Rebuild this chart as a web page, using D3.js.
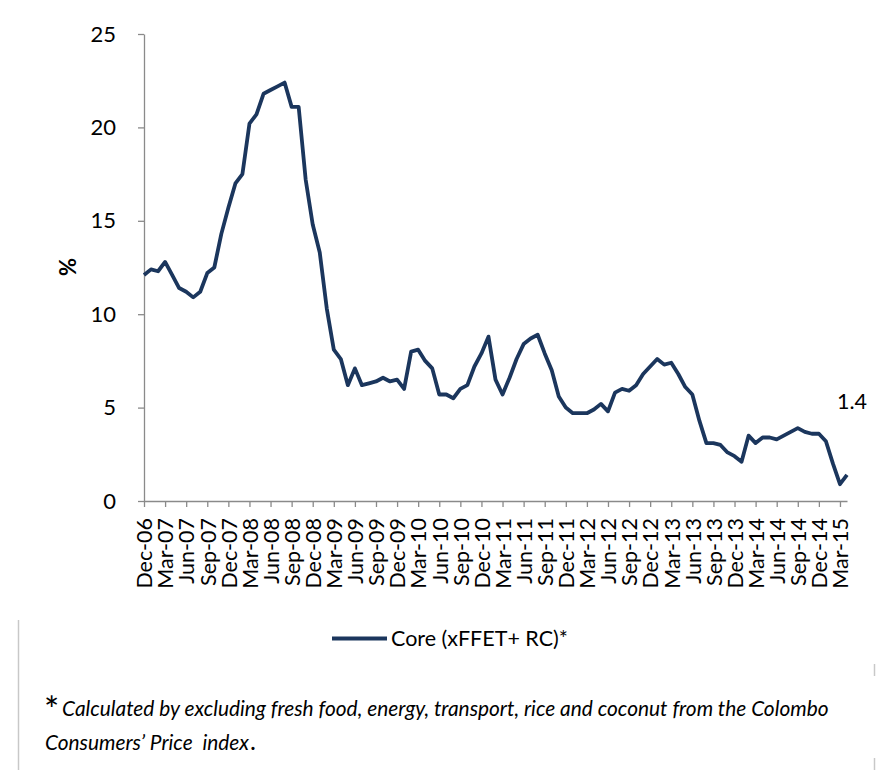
<!DOCTYPE html>
<html><head><meta charset="utf-8">
<script src="https://cdn.jsdelivr.net/npm/d3@7"></script>
<style>
body{margin:0;background:#fff}
svg{display:block;font-family:Lato,"Open Sans",sans-serif}
</style>
</head><body>
<svg id="c" width="879" height="770"></svg>
<script>
// ---- data ----
const months = [
"Dec-06","Jan-07","Feb-07","Mar-07","Apr-07","May-07","Jun-07","Jul-07","Aug-07","Sep-07","Oct-07","Nov-07",
"Dec-07","Jan-08","Feb-08","Mar-08","Apr-08","May-08","Jun-08","Jul-08","Aug-08","Sep-08","Oct-08","Nov-08",
"Dec-08","Jan-09","Feb-09","Mar-09","Apr-09","May-09","Jun-09","Jul-09","Aug-09","Sep-09","Oct-09","Nov-09",
"Dec-09","Jan-10","Feb-10","Mar-10","Apr-10","May-10","Jun-10","Jul-10","Aug-10","Sep-10","Oct-10","Nov-10",
"Dec-10","Jan-11","Feb-11","Mar-11","Apr-11","May-11","Jun-11","Jul-11","Aug-11","Sep-11","Oct-11","Nov-11",
"Dec-11","Jan-12","Feb-12","Mar-12","Apr-12","May-12","Jun-12","Jul-12","Aug-12","Sep-12","Oct-12","Nov-12",
"Dec-12","Jan-13","Feb-13","Mar-13","Apr-13","May-13","Jun-13","Jul-13","Aug-13","Sep-13","Oct-13","Nov-13",
"Dec-13","Jan-14","Feb-14","Mar-14","Apr-14","May-14","Jun-14","Jul-14","Aug-14","Sep-14","Oct-14","Nov-14",
"Dec-14","Jan-15","Feb-15","Mar-15","Apr-15"];

const core = [
12.1,12.4,12.3,12.8,12.1,11.4,11.2,10.9,11.2,12.2,12.5,14.3,
15.7,17.0,17.5,20.2,20.7,21.8,22.0,22.2,22.4,21.1,21.1,17.2,
14.8,13.3,10.3,8.1,7.6,6.2,7.1,6.2,6.3,6.4,6.6,6.4,
6.5,6.0,8.0,8.1,7.5,7.1,5.7,5.7,5.5,6.0,6.2,7.2,
7.9,8.8,6.5,5.7,6.6,7.6,8.4,8.7,8.9,7.9,7.0,5.6,
5.0,4.7,4.7,4.7,4.9,5.2,4.8,5.8,6.0,5.9,6.2,6.8,
7.2,7.6,7.3,7.4,6.8,6.1,5.7,4.3,3.1,3.1,3.0,2.6,
2.4,2.1,3.5,3.1,3.4,3.4,3.3,3.5,3.7,3.9,3.7,3.6,
3.6,3.2,2.0,0.9,1.4];

const tickLabels = ["Dec-06","Mar-07","Jun-07","Sep-07","Dec-07","Mar-08","Jun-08","Sep-08","Dec-08",
"Mar-09","Jun-09","Sep-09","Dec-09","Mar-10","Jun-10","Sep-10","Dec-10","Mar-11","Jun-11","Sep-11",
"Dec-11","Mar-12","Jun-12","Sep-12","Dec-12","Mar-13","Jun-13","Sep-13","Dec-13","Mar-14","Jun-14",
"Sep-14","Dec-14","Mar-15"];
const yTicks = [0,5,10,15,20,25];
const seriesName = "Core (xFFET+ RC)*";
const lastLabel = "1.4";
const note1 = "Calculated by excluding fresh food, energy, transport, rice and coconut from the Colombo";
const note2 = "Consumers\u2019 Price  index";

// ---- chart ----
const svg = d3.select("#c");
const lineColor = "#1b365d";
const axisColor = "#8a8a8a";

const x = d3.scalePoint().domain(months).range([144, 847]);
const y = d3.scaleLinear().domain([0, 25]).range([501, 34]);

// y axis
const gy = svg.append("g").attr("transform","translate(144,0)")
  .call(d3.axisLeft(y).tickValues(yTicks).tickSize(6).tickSizeOuter(0).tickPadding(22));
gy.select(".domain").attr("stroke", axisColor).attr("stroke-width",1.3);
gy.selectAll(".tick line").attr("stroke", axisColor).attr("stroke-width",1.3);
gy.selectAll(".tick text").attr("font-family","Lato").attr("font-size","22px").attr("fill","#000");

// x axis
const gx = svg.append("g").attr("transform","translate(0,501)")
  .call(d3.axisBottom(x).tickValues(tickLabels).tickSize(6).tickSizeOuter(0));
gx.select(".domain").attr("stroke", axisColor).attr("stroke-width",1.3);
gx.selectAll(".tick line").attr("stroke", axisColor).attr("stroke-width",1.3);
gx.selectAll(".tick text")
  .attr("font-family","Lato").attr("font-size","21.5px").attr("fill","#000")
  .attr("text-anchor","end")
  .attr("transform","translate(0,17) rotate(-90)")
  .attr("x",0).attr("y",0).attr("dy","0.36em");

// y title
svg.append("text").attr("transform","translate(76,267) rotate(-90)")
  .attr("text-anchor","middle").attr("font-family","Lato").attr("font-weight","bold")
  .attr("font-size","22px").text("%");

// line
const line = d3.line().x((d,i)=>x(months[i])).y(d=>y(d));
svg.append("path").datum(core).attr("d", line)
  .attr("fill","none").attr("stroke", lineColor).attr("stroke-width",3.8)
  .attr("stroke-linejoin","round");

// last value label
svg.append("text").attr("x", x(months[months.length-1]) - 10).attr("y", y(core[core.length-1]) - 66)
  .attr("font-family","Lato").attr("font-size","21.5px").text(lastLabel);

// legend
svg.append("line").attr("x1",332).attr("x2",387).attr("y1",638.5).attr("y2",638.5)
  .attr("stroke", lineColor).attr("stroke-width",3.8);
svg.append("text").attr("x",391).attr("y",646).attr("font-family","Lato")
  .attr("font-size","21.5px").text(seriesName);

// footnote
svg.append("text").attr("x",44).attr("y",723).attr("font-family","Lato")
  .attr("font-size","36px").text("*");
const t1 = svg.append("text").attr("x",62).attr("y",716).attr("font-family","Lato")
  .attr("font-style","italic").attr("font-size","16.5px").text(note1);
let L = t1.node().getComputedTextLength();
t1.attr("font-size", (16.5*767/L).toFixed(2)+"px");
const fs = 16.5*767/L;
const t2 = svg.append("text").attr("x",45).attr("y",750).attr("font-family","Lato")
  .attr("font-style","italic").attr("font-size", fs.toFixed(2)+"px")
  .style("white-space","pre").text(note2);
const L2 = t2.node().getComputedTextLength();
svg.append("text").attr("x",45+L2+1).attr("y",750).attr("font-family","Lato")
  .attr("font-size",(fs*1.2).toFixed(2)+"px").text(".");

// frame fragments
svg.append("line").attr("x1",18.5).attr("x2",18.5).attr("y1",620).attr("y2",770)
  .attr("stroke","#c8c8c8").attr("stroke-width",1.5);
svg.append("line").attr("x1",874.5).attr("x2",874.5).attr("y1",664).attr("y2",676)
  .attr("stroke","#c8c8c8").attr("stroke-width",1.5);
svg.append("line").attr("x1",874.5).attr("x2",874.5).attr("y1",758).attr("y2",770)
  .attr("stroke","#c8c8c8").attr("stroke-width",1.5);
</script>
</body></html>
